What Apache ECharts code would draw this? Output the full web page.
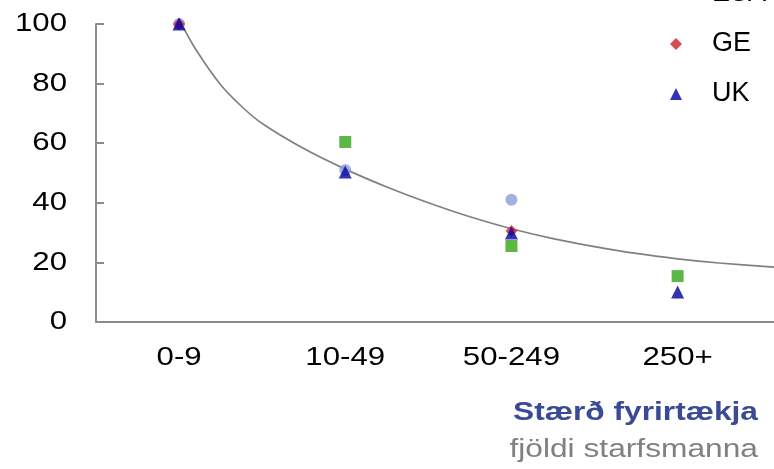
<!DOCTYPE html>
<html>
<head>
<meta charset="utf-8">
<script src="https://cdn.jsdelivr.net/npm/echarts@6/dist/echarts.min.js"></script>
<style>html,body{margin:0;padding:0;background:#fff}#c{width:774px;height:469px}</style>
</head>
<body>
<div id="c"></div>
<script>
const categories = ['0-9', '10-49', '50-249', '250+'];
const seriesNames = ['Ísland', 'ESA', 'GE', 'UK'];
const islandValues = [100.8, 60.4, 25.5, 15.4];
const esaValues = [100, 51, 41, null];
const geValues = [100, null, 30.5, null];
const ukValues = [100, 50.3, 29.9, 10.1];
const trendX = [1, 1.1, 1.25, 1.375, 1.5, 1.75, 2, 2.25, 2.5, 2.75, 3, 3.25, 3.5, 3.75, 4, 4.25, 4.58];
const trendY = [101.5, 91.5, 79.6, 72.4, 66.6, 58.2, 51.3, 45.3, 40.0, 35.3, 31.3, 28.0, 25.3, 23.0, 21.2, 19.8, 18.4];
const yTicks = [0, 20, 40, 60, 80, 100];
const xTitle = 'Stærð fyrirtækja';
const xSubtitle = 'fjöldi starfsmanna';

const toPts = vals => vals.map((v, i) => v == null ? null : [i + 1, v]).filter(p => p);
const font = '"Liberation Sans", Arial, sans-serif';
const chart = echarts.init(document.getElementById('c'), null, {renderer: 'canvas'});
chart.setOption({
  animation: false,
  backgroundColor: '#fff',
  grid: {left: 96, right: 0, top: 24, bottom: 147, containLabel: false},
  xAxis: {
    type: 'value', min: 0.5, max: 4.58,
    axisLine: {show: true, lineStyle: {color: '#8c8c8c', width: 2}},
    axisTick: {show: false},
    splitLine: {show: false},
    axisLabel: {
      customValues: categories.map((c, i) => i + 1),
      formatter: v => categories[Math.round(v) - 1] || '',
      color: '#000', fontSize: 26, fontFamily: font, margin: 23
    }
  },
  yAxis: {
    type: 'value', min: 0, max: 100, interval: 20,
    axisLine: {show: true, lineStyle: {color: '#8c8c8c', width: 2}},
    axisTick: {show: true, inside: true, length: 8, lineStyle: {color: '#8c8c8c', width: 2}},
    splitLine: {show: false},
    axisLabel: {color: '#000', fontSize: 26, fontFamily: font, margin: 29}
  },
  legend: {
    orient: 'vertical', left: 665, top: -76,
    itemWidth: 12, itemHeight: 12, itemGap: 20,
    textStyle: {fontSize: 27, fontFamily: font, color: '#000', lineHeight: 30, padding: [0, 0, 0, 25]},
    data: seriesNames
  },
  series: [
    {name: 'trend', type: 'line', data: trendX.map((x, i) => [x, trendY[i]]),
      smooth: 0.3, showSymbol: false, symbol: 'none', silent: true,
      lineStyle: {color: '#808080', width: 1.7}, z: 1},
    {name: seriesNames[0], type: 'scatter', data: toPts(islandValues), symbol: 'rect', symbolSize: 12,
      itemStyle: {color: '#35a516'}, z: 2},
    {name: seriesNames[1], type: 'scatter', data: toPts(esaValues), symbol: 'circle', symbolSize: 12,
      itemStyle: {color: '#8e9cd7'}, z: 3},
    {name: seriesNames[2], type: 'scatter', data: toPts(geValues), symbol: 'diamond', symbolSize: 12,
      itemStyle: {color: '#cc2229'}, z: 4},
    {name: seriesNames[3], type: 'scatter', data: toPts(ukValues), symbol: 'triangle', symbolSize: 13,
      itemStyle: {color: '#0000a0'}, z: 5}
  ],
  graphic: [
    {type: 'text', x: 758, y: 413, scaleX: 1.22, style: {text: xTitle, fontSize: 26, fontWeight: 'bold',
      fontFamily: font, fill: '#3a4a96', align: 'right', verticalAlign: 'middle'}},
    {type: 'text', x: 758, y: 450, scaleX: 1.22, style: {text: xSubtitle, fontSize: 26,
      fontFamily: font, fill: '#808080', align: 'right', verticalAlign: 'middle'}}
  ]
});

// The reference's axis labels are horizontally stretched; stretch the axis label texts.
const labelSet = new Set(categories.concat(yTicks.map(String)));
const zr = chart.getZr();
zr.storage.getRoots().forEach(root => {
  root.traverse(el => {
    if (el.type === 'text' && el.style && labelSet.has(String(el.style.text))) {
      el.attr({scaleX: 1.2});
    }
  });
});
zr.refresh();
</script>
</body>
</html>
